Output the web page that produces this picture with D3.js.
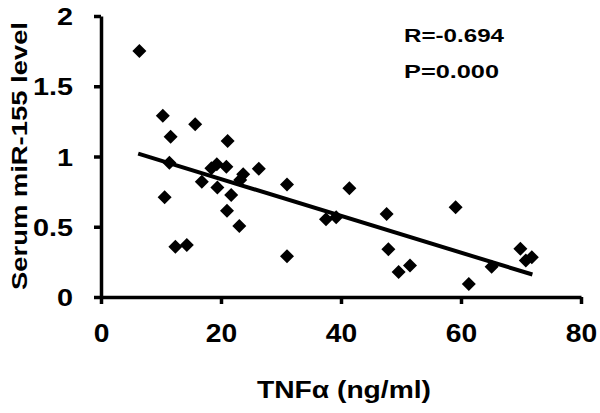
<!DOCTYPE html>
<html><head><meta charset="utf-8">
<script src="https://cdn.jsdelivr.net/npm/d3@7"></script>
<style>body{margin:0;background:#fff}text{font-family:"Liberation Sans",Arial,sans-serif;font-weight:bold}</style>
</head><body><svg id="c" width="600" height="413"></svg>
<script>
const tnf = [6.4,10.3,15.7,11.6,21.1,11.4,10.6,18.4,19.3,20.9,16.8,19.4,21.7,23.7,23.2,26.3,21.0,23.05,12.4,14.3,31.0,31.0,41.4,37.5,39.2,47.6,47.9,49.6,51.5,59.1,61.3,65.1,69.9,71.8,70.8];
const mir = [1.75,1.29,1.23,1.14,1.11,0.956,0.71,0.916,0.944,0.927,0.82,0.78,0.726,0.873,0.833,0.913,0.614,0.505,0.358,0.37,0.80,0.29,0.774,0.553,0.567,0.59,0.34,0.178,0.225,0.638,0.092,0.216,0.344,0.283,0.26];
const fitX = [6.2, 71.9];
const fitY = [1.02, 0.16];
const xTicks = [0,20,40,60,80];
const yTicks = [0,0.5,1,1.5,2];
const yTickLabels = ["0","0.5","1","1.5","2"];
const stats = ["R=-0.694","P=0.000"];

const svg = d3.select("#c");
const x = d3.scaleLinear().domain([0,80]).range([101,581]);
const y = d3.scaleLinear().domain([0,2]).range([297,16]);

const xa = svg.append("g").attr("transform","translate(0,297)")
  .call(d3.axisBottom(x).tickValues(xTicks).tickSize(7).tickSizeOuter(0));
const ya = svg.append("g").attr("transform","translate(101,0)")
  .call(d3.axisLeft(y).tickValues(yTicks).tickFormat((d,i)=>yTickLabels[i]).tickSize(7).tickSizeOuter(0));
[xa,ya].forEach(a=>{
  a.selectAll(".domain").attr("stroke","#000").attr("stroke-width",3.5);
  a.selectAll(".tick line").attr("stroke","#000").attr("stroke-width",3.5);
  a.selectAll(".tick text").attr("fill","#000").style("font-family","Liberation Sans, Arial, sans-serif").style("font-weight","bold");
});
xa.selectAll(".tick text").style("font-size","25px").attr("y",45).attr("dy",0)
  .attr("transform","scale(1.13,1)");
ya.selectAll(".tick text").style("font-size","24px").attr("x",-28/1.2).attr("dy","0.36em")
  .attr("transform","scale(1.2,1)");

svg.append("line")
  .attr("x1",x(fitX[0])).attr("y1",y(fitY[0]))
  .attr("x2",x(fitX[1])).attr("y2",y(fitY[1]))
  .attr("stroke","#000").attr("stroke-width",4);

const diamond = d3.symbol().type(d3.symbolSquare).size(98);
svg.append("g").selectAll("path").data(tnf).join("path")
  .attr("d",diamond)
  .attr("transform",(d,i)=>`translate(${x(d)},${y(mir[i])}) rotate(45)`)
  .attr("fill","#000");

svg.append("text").attr("x",257).attr("y",398)
  .attr("textLength",174).attr("lengthAdjust","spacingAndGlyphs")
  .style("font-size","24px").text("TNFα (ng/ml)");
svg.append("text").attr("transform","translate(27,156) rotate(-90)").attr("x",-134)
  .attr("textLength",268).attr("lengthAdjust","spacingAndGlyphs")
  .style("font-size","22px").text("Serum miR-155 level");
const statW = [100,95];
svg.selectAll(".stat").data(stats).join("text").attr("class","stat")
  .attr("x",404).attr("y",(d,i)=>42+i*36)
  .attr("textLength",(d,i)=>statW[i]).attr("lengthAdjust","spacingAndGlyphs")
  .style("font-size","18.5px").text(d=>d);
</script></body></html>
